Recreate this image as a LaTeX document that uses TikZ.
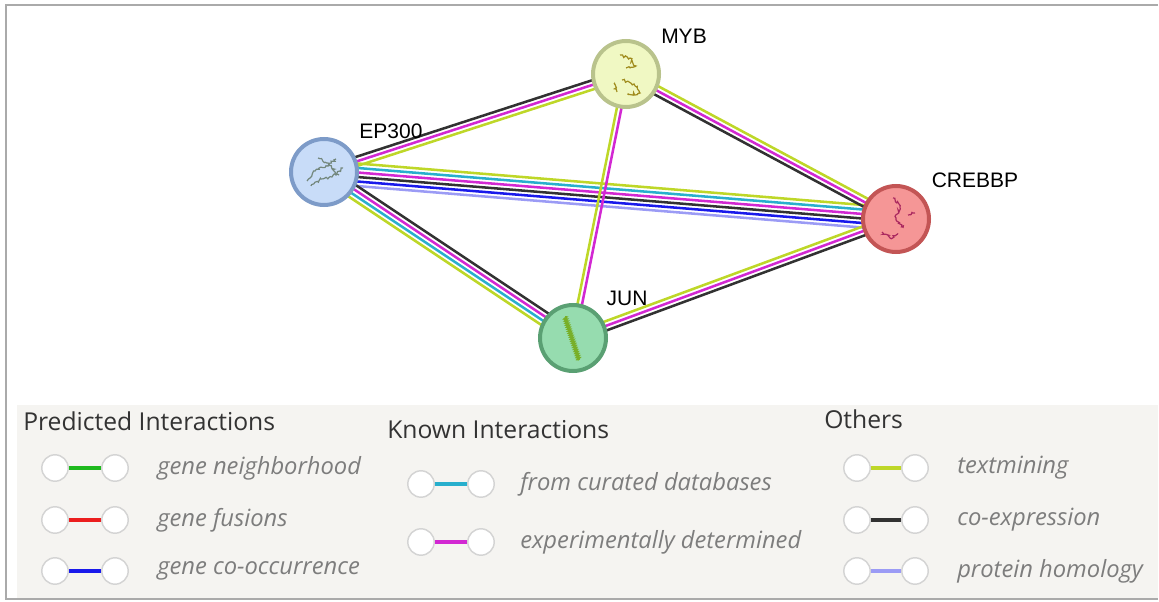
\documentclass[tikz,border=0pt]{standalone}
\usepackage{fontspec}
\setmainfont{Liberation Sans}
\newfontfamily\legendfont{Open Sans}
\usetikzlibrary{calc,backgrounds,decorations.pathmorphing}

% evidence channels
\definecolor{neigh}{RGB}{30,185,30}
\definecolor{fusion}{RGB}{235,30,30}
\definecolor{cooc}{RGB}{25,25,235}
\definecolor{curdb}{RGB}{40,175,205}
\definecolor{expdet}{RGB}{210,40,210}
\definecolor{tmine}{RGB}{190,215,40}
\definecolor{coexp}{RGB}{50,50,50}
\definecolor{homol}{RGB}{155,155,245}
% proteins
\definecolor{ep300fill}{RGB}{200,220,248}
\definecolor{ep300ring}{RGB}{125,155,200}
\definecolor{ep300ink}{RGB}{115,135,125}
\definecolor{mybfill}{RGB}{240,248,195}
\definecolor{mybring}{RGB}{185,195,140}
\definecolor{mybink}{RGB}{160,140,30}
\definecolor{crebbpfill}{RGB}{245,150,150}
\definecolor{crebbpring}{RGB}{195,85,85}
\definecolor{crebbpink}{RGB}{170,40,95}
\definecolor{junfill}{RGB}{150,220,175}
\definecolor{junring}{RGB}{90,160,115}
\definecolor{junink}{RGB}{120,175,40}
% legend
\definecolor{legendbg}{RGB}{245,244,241}
\definecolor{framegray}{RGB}{170,170,170}
\definecolor{keyring}{RGB}{212,212,212}
\definecolor{headgray}{RGB}{51,51,51}
\definecolor{itemgray}{RGB}{125,125,125}

\tikzset{
  protein/.style={circle, minimum size=49.5pt, inner sep=0pt, line width=3pt},
  genename/.style={inner sep=0.75pt, font=\fontsize{15.75}{18}\selectfont},
  link/.style={line width=1.9pt},
  struct/.style={line width=0.9pt, decorate, decoration={random steps, segment length=1.2pt, amplitude=1.1pt}},
  keydot/.style={circle, minimum size=19.8pt, inner sep=0pt, fill=white, draw=keyring, line width=1.1pt},
  keyline/.style={line width=2.6pt},
  keyhead/.style={anchor=west, inner sep=0pt, text=headgray, font=\legendfont\fontsize{18.5}{20}\selectfont},
  keytext/.style={anchor=west, inner sep=0pt, text=itemgray, font=\legendfont\itshape\fontsize{17.8}{20}\selectfont}
}

% parallel lines between two proteins, offset/colour pairs
\newcommand{\edgebundle}[3]{%
  \foreach \off/\col in {#3}
    \draw[link,\col] ($(#1)!\off pt!-90:(#2)$) -- ($(#2)!\off pt!90:(#1)$);
}

\begin{document}
\begin{tikzpicture}[x=0.75pt,y=0.75pt,yscale=-1,xscale=1]
\useasboundingbox (0,0) rectangle (1159,602);
\pgfmathsetseed{11}

%Shape: Rectangle
\fill [legendbg] (17,405) rectangle (1158,598);
%Shape: Frame
\draw [framegray, line width=1.5] (1158,5) -- (6,5) -- (6,599) -- (1158,599);

%Shape: Circle
\draw (324,172) node [protein, fill=ep300fill, draw=ep300ring] (ep300) {};
%Shape: Circle
\draw (626,74) node [protein, fill=mybfill, draw=mybring] (myb) {};
%Shape: Circle
\draw (896,219) node [protein, fill=crebbpfill, draw=crebbpring] (crebbp) {};
%Shape: Circle
\draw (573,338) node [protein, fill=junfill, draw=junring] (jun) {};

\begin{pgfonlayer}{background}
\edgebundle{ep300}{myb}{3.375/coexp, 0/expdet, -3.375/tmine}
\edgebundle{ep300}{crebbp}{8.44/tmine, 5.06/curdb, 1.69/expdet, -1.69/coexp, -5.06/cooc, -8.44/homol}
\edgebundle{ep300}{jun}{5.06/coexp, 1.69/expdet, -1.69/curdb, -5.06/tmine}
\edgebundle{myb}{crebbp}{3.375/tmine, 0/expdet, -3.375/coexp}
\edgebundle{myb}{jun}{1.69/expdet, -1.69/tmine}
\edgebundle{jun}{crebbp}{3.375/tmine, 0/expdet, -3.375/coexp}
\end{pgfonlayer}

%Shape: structure sketches
\draw [struct, ep300ink] (307,181) -- (315,171) -- (326,166) -- (336,159);
\draw [struct, ep300ink] (311,186) -- (321,179) -- (332,177) -- (343,168);
\draw [struct, ep300ink] (318,158) -- (328,163) -- (339,175);
\draw [struct, mybink] (620,55) -- (630,58) -- (636,66) -- (626,68);
\draw [struct, mybink] (622,80) -- (634,84) -- (640,93) -- (628,95);
\draw [struct, mybink] (614,83) -- (617,92);
\draw [struct, crebbpink] (893,198) -- (900,207) -- (896,218) -- (903,228);
\draw [struct, crebbpink] (882,232) -- (890,238) -- (898,234);
\draw [struct, crebbpink] (908,215) -- (915,213);
\draw [junink, line width=1.4pt, decorate, decoration={zigzag, segment length=1.6pt, amplitude=0.9pt}] (565,317) -- (579,360);

% Text Node
\draw (391,131) node [genename] (ep300lbl) {EP300};
% Text Node
\draw (684,36) node [genename] (myblbl) {MYB};
% Text Node
\draw (975,180) node [genename] (crebbplbl) {CREBBP};
% Text Node
\draw (627,298) node [genename] (junlbl) {JUN};

% Text Node
\draw (23,421) node [keyhead] (predhead) {Predicted Interactions};
\foreach \y/\col/\txt [count=\i] in {468/neigh/gene neighborhood, 520/fusion/gene fusions, 571/cooc/gene co-occurrence} {
  \draw (55,\y) node [keydot] (pl\i) {} (115,\y) node [keydot] (pr\i) {};
  \draw [keyline,\col] (pl\i) -- (pr\i);
  \draw (157,\y) node [keytext] (pt\i) {\txt};
}

% Text Node
\draw (387,430) node [keyhead] (knownhead) {Known Interactions};
\foreach \y/\col/\txt [count=\i] in {484/curdb/from curated databases, 542/expdet/experimentally determined} {
  \draw (421,\y) node [keydot] (kl\i) {} (481,\y) node [keydot] (kr\i) {};
  \draw [keyline,\col] (kl\i) -- (kr\i);
  \draw (520,\y) node [keytext] (kt\i) {\txt};
}

% Text Node
\draw (824,419) node [keyhead] (otherhead) {Others};
\foreach \y/\col/\txt [count=\i] in {468/tmine/textmining, 520/coexp/co-expression, 571/homol/protein homology} {
  \draw (857,\y) node [keydot] (ol\i) {} (915,\y) node [keydot] (or\i) {};
  \draw [keyline,\col] (ol\i) -- (or\i);
  \draw (957,\y) node [keytext] (ot\i) {\txt};
}

\end{tikzpicture}
\end{document}
